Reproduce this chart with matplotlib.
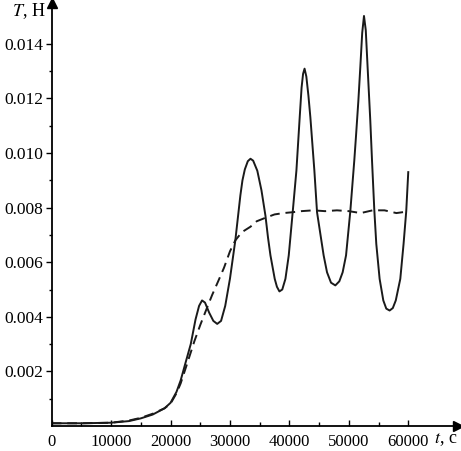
import numpy as np
import matplotlib
matplotlib.use("Agg")
import matplotlib.pyplot as plt

plt.rcParams['font.family'] = ['Liberation Serif', 'DejaVu Serif']
plt.rcParams['mathtext.fontset'] = 'stix'

# solid curve
t_solid = [0, 5000, 10000, 13000, 15000, 17000, 19000, 20000, 21000, 21700,
           22500, 23400, 24200, 24800, 25300, 25800, 26500, 27200, 27850, 28500,
           29200, 30000, 30900, 31750, 32100, 32500, 33000, 33450, 33900, 34600, 35300,
           35970, 36400, 36810, 37530, 37900, 38320, 38800, 39330, 39890, 40560, 41180, 41730,
           42050, 42300, 42550, 42850, 43200, 43530, 44200, 44650, 45760, 46330, 47000, 47730,
           48400, 48960, 49530, 50250, 50920, 51200, 51600, 51930, 52250, 52550, 52850,
           53160, 53610, 53900, 54290, 54620, 55180, 55800, 56300, 56860, 57400,
           57900, 58660, 59210, 59660, 60000]
T_solid = [0.0001, 0.0001, 0.00012, 0.00018, 0.00028, 0.00042, 0.00065, 0.00085, 0.00125, 0.00167,
           0.0023, 0.0030, 0.0039, 0.0044, 0.0046, 0.00452, 0.00415, 0.00385, 0.00374, 0.00385,
           0.0044, 0.0054, 0.0068, 0.00845, 0.009, 0.0094, 0.0097, 0.00979, 0.00972, 0.00935, 0.00863,
           0.0077, 0.0069, 0.00625, 0.00539, 0.0051, 0.00493, 0.005, 0.00539, 0.00625, 0.00785, 0.00936, 0.0113,
           0.0124, 0.0129, 0.01309, 0.0128, 0.0121, 0.0113, 0.00936, 0.00783, 0.00625, 0.00563, 0.00525, 0.00515,
           0.0053, 0.00563, 0.00625, 0.00787, 0.00973, 0.0106, 0.0119, 0.01314, 0.0144, 0.01502, 0.0145,
           0.01314, 0.01119, 0.00973, 0.0079, 0.00667, 0.00539, 0.0046, 0.0043, 0.00423, 0.00432,
           0.0046, 0.00539, 0.00667, 0.00787, 0.0093]

# dashed curve
t_dash = [0, 5000, 10000, 13000, 15000, 17000, 19000, 20000, 21000, 21700,
          22800, 24000, 25000, 26170, 27000, 28070, 29000, 30000, 30900, 32000,
          33450, 34500, 36000, 37500, 39000, 40500, 42000, 44000, 46000, 48000,
          50000, 52000, 54000, 56000, 58000, 60000]
T_dash = [0.0001, 0.0001, 0.00012, 0.0002, 0.0003, 0.00045, 0.00065, 0.00082, 0.0012, 0.00156,
          0.00229, 0.0031, 0.0037, 0.00435, 0.0048, 0.00533, 0.0058, 0.0064, 0.0068, 0.0071,
          0.0073, 0.0075, 0.00763, 0.00775, 0.0078, 0.00783, 0.00787, 0.0079, 0.00787, 0.0079,
          0.00787, 0.0078, 0.0079, 0.0079, 0.0078, 0.00786]

x_major = [0, 10000, 20000, 30000, 40000, 50000, 60000]
x_minor = [5000, 15000, 25000, 35000, 45000, 55000]
y_major = [0.002, 0.004, 0.006, 0.008, 0.010, 0.012, 0.014]
y_minor = [0.001, 0.003, 0.005, 0.007, 0.009, 0.011, 0.013]

fig = plt.figure(figsize=(4.61, 4.51), dpi=100)
ax = fig.add_axes([51.7 / 461, 25 / 451, (458 - 51.7) / 461, (426 - 3) / 451])

ax.plot(t_solid, T_solid, color='#1a1a1a', lw=1.4, solid_joinstyle='round')
ax.plot(t_dash, T_dash, color='#1a1a1a', lw=1.4, dashes=(5, 3))

ax.set_xlim(0, 68370)
ax.set_ylim(0, 0.015495)

for s in ['top', 'right']:
    ax.spines[s].set_visible(False)
for s in ['left', 'bottom']:
    ax.spines[s].set_linewidth(1.3)

# arrow heads on axes
ax.plot(1, 0, '>', color='black', ms=7, transform=ax.get_yaxis_transform(), clip_on=False)
ax.plot(0, 1, '^', color='black', ms=7, transform=ax.get_xaxis_transform(), clip_on=False)

ax.set_xticks(x_major)
ax.set_xticks(x_minor, minor=True)
ax.set_xticklabels([str(v) for v in x_major])
ax.set_yticks(y_major)
ax.set_yticks(y_minor, minor=True)
ax.set_yticklabels(['%.3f' % v for v in y_major])

ax.tick_params(axis='x', which='major', direction='in', length=4, width=1, labelsize=12, pad=6)
ax.tick_params(axis='x', which='minor', direction='in', length=3, width=1)
ax.tick_params(axis='y', which='major', direction='out', length=4, width=1, labelsize=12.5, pad=2)
ax.tick_params(axis='y', which='minor', direction='out', length=2, width=1)

fig.text(12 / 461, 1 - 11 / 451, '$T$, Н', fontsize=13, va='center', ha='left')
fig.text(434 / 461, 1 - 439 / 451, '$t$, с', fontsize=13, va='center', ha='left')

fig.savefig('out.png', dpi=100)
